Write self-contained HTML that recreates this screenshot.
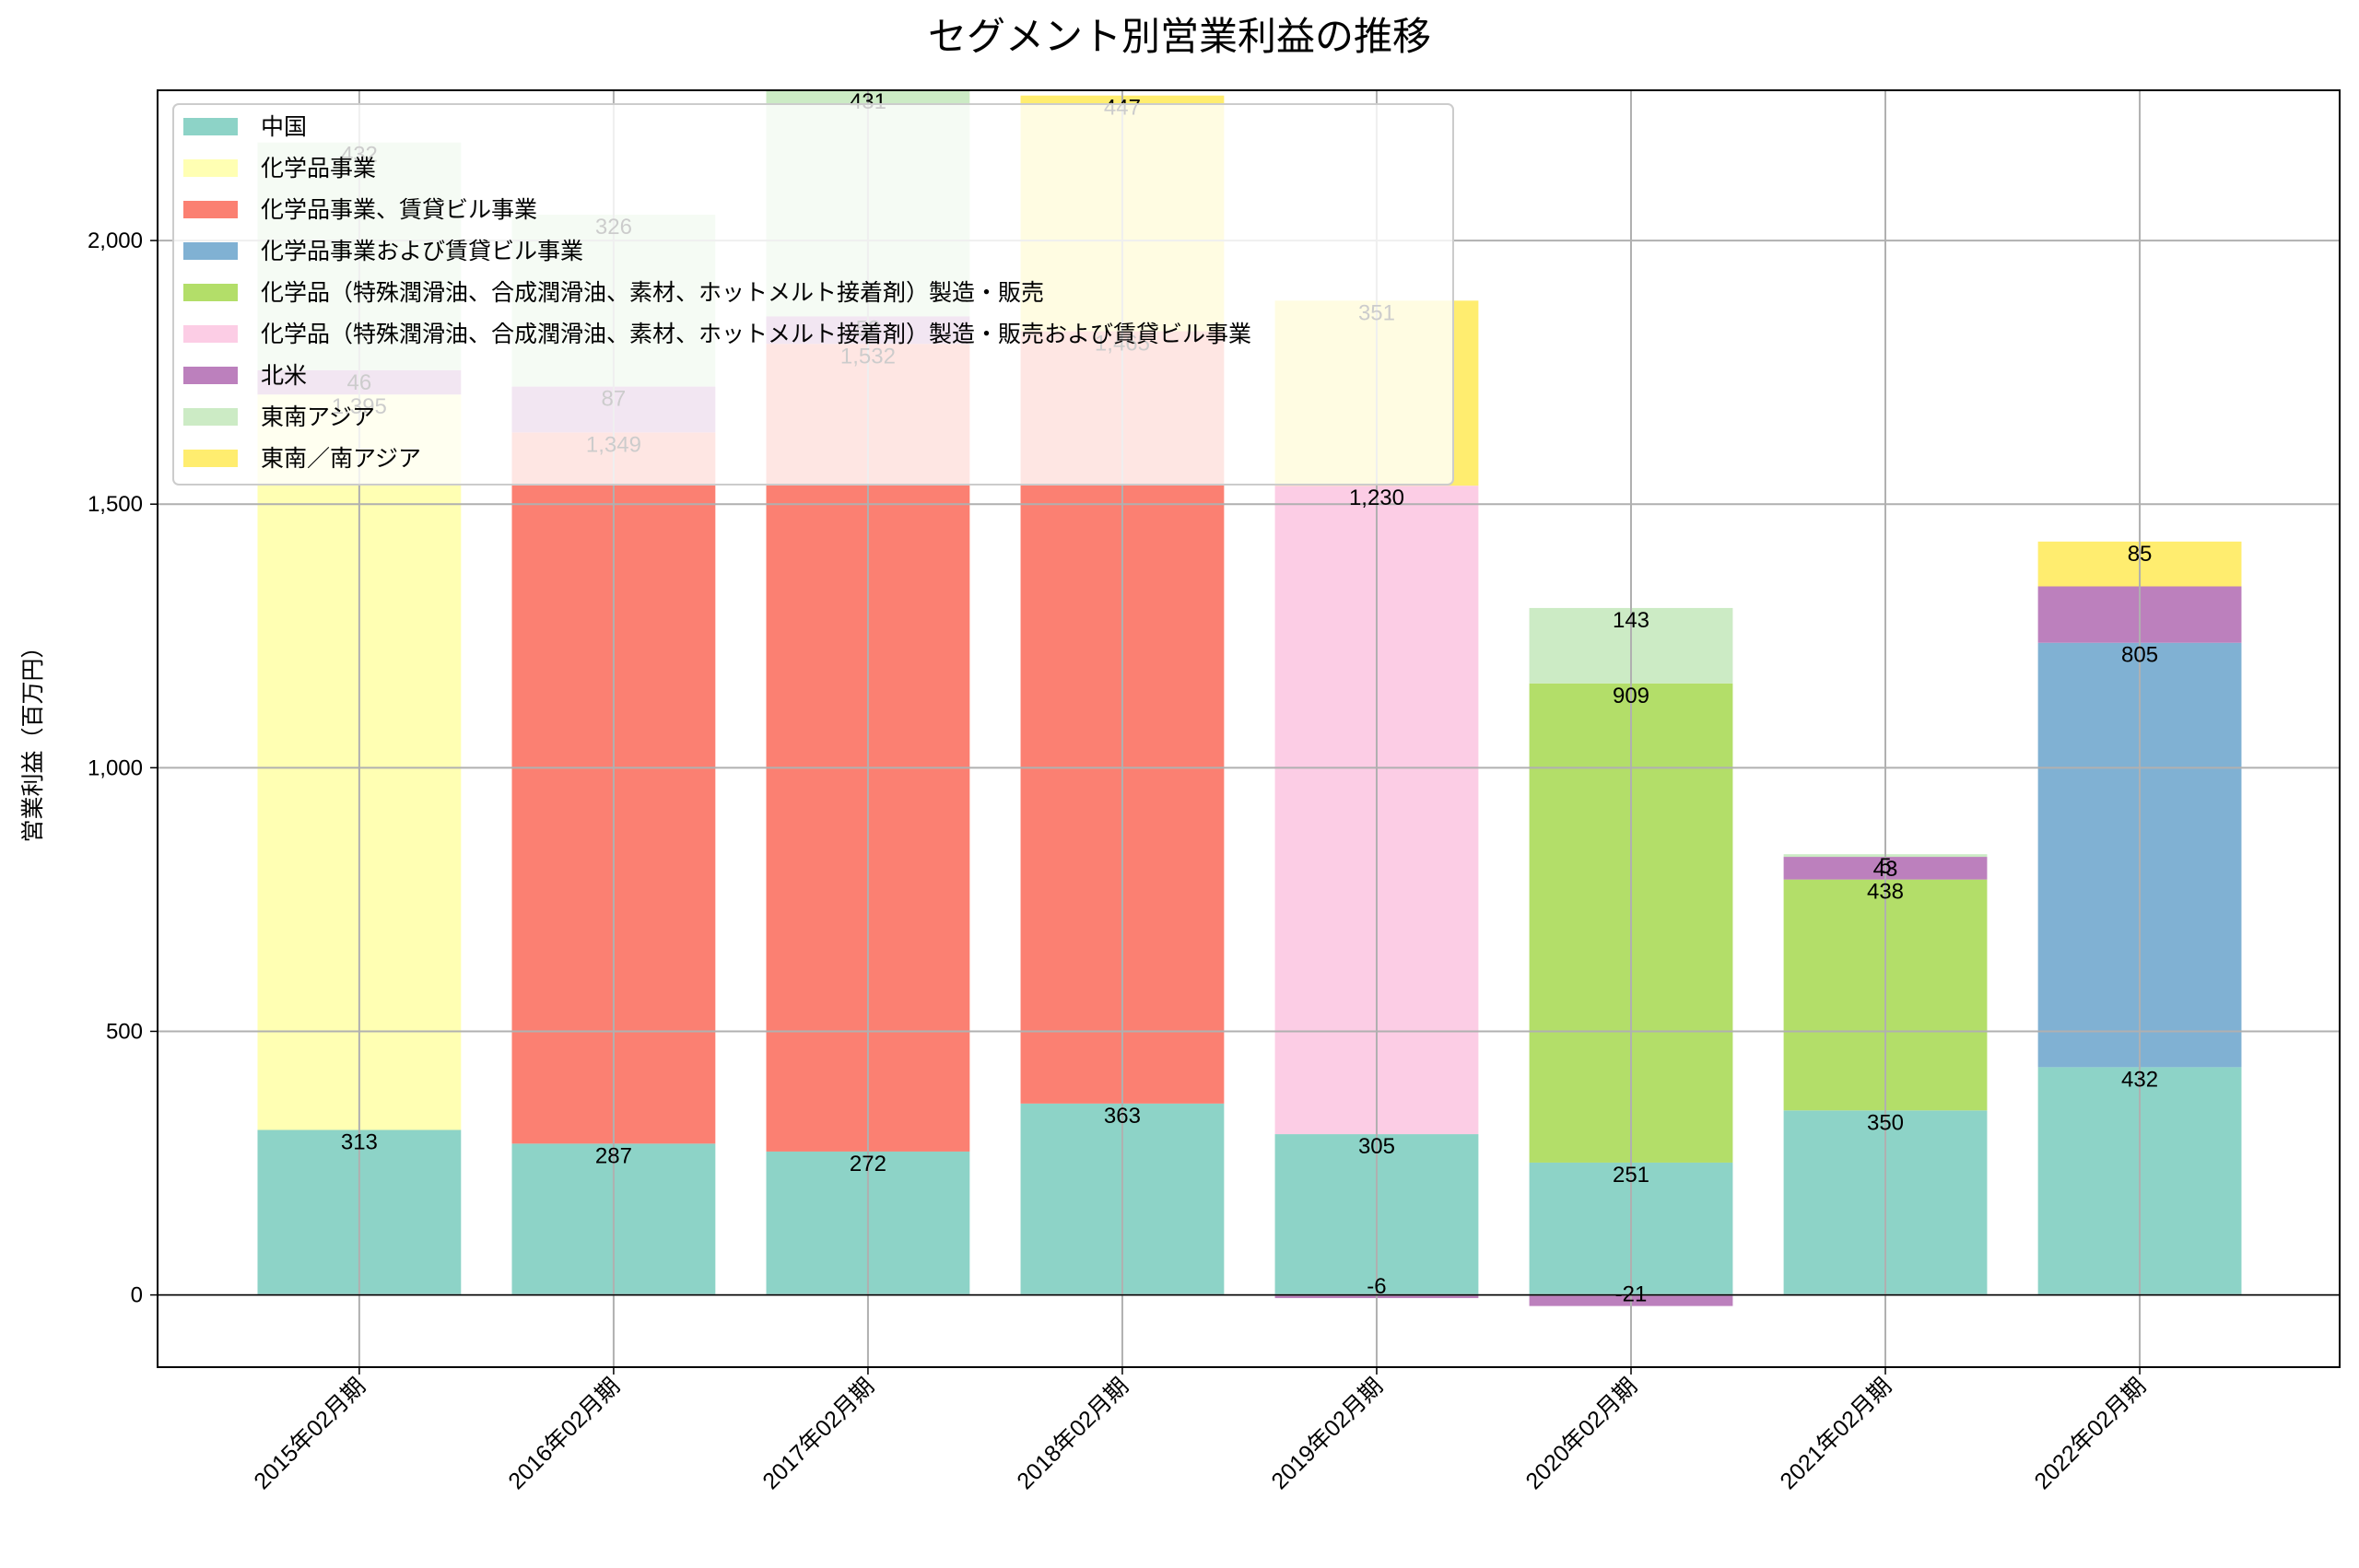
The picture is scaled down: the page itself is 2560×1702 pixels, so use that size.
<!DOCTYPE html>
<html><head><meta charset="utf-8"><style>
body{margin:0;background:#fff}
svg text{font-family:"Liberation Sans","Noto Sans CJK JP",sans-serif}
</style></head><body>
<svg id="chart" width="2560" height="1697" viewBox="0 0 2560 1697" xmlns="http://www.w3.org/2000/svg">
<rect width="2560" height="1697" fill="#fff"/>
<text x="1280" y="54" font-size="42" text-anchor="middle">セグメント別営業利益の推移</text>
<text transform="translate(44,802) rotate(-90)" font-size="25" text-anchor="middle">営業利益（百万円）</text>
<g id="bars"></g><g id="grid"></g><g id="labels"></g><g id="axes"></g><g id="legend"></g>
</svg>
<script>
const categories = ["2015年02月期","2016年02月期","2017年02月期","2018年02月期","2019年02月期","2020年02月期","2021年02月期","2022年02月期"];
const seriesNames = ["中国","化学品事業","化学品事業、賃貸ビル事業","化学品事業および賃貸ビル事業","化学品（特殊潤滑油、合成潤滑油、素材、ホットメルト接着剤）製造・販売","化学品（特殊潤滑油、合成潤滑油、素材、ホットメルト接着剤）製造・販売および賃貸ビル事業","北米","東南アジア","東南／南アジア"];
const s0 = [313,287,272,363,305,251,350,432];
const s1 = [1395,0,0,0,0,0,0,0];
const s2 = [0,1349,1532,1465,0,0,0,0];
const s3 = [0,0,0,0,0,0,0,805];
const s4 = [0,0,0,0,0,909,438,0];
const s5 = [0,0,0,0,1230,0,0,0];
const s6 = [46,87,52,0,-6,-21,43,107];
const s7 = [432,326,431,0,0,143,5,0];
const s8 = [0,0,0,447,351,0,0,85];
const hiddenLabels = ["7-6","8-7"];
const yTicks = [0,500,1000,1500,2000];
const yTickLabels = ["0","500","1,000","1,500","2,000"];
const colors = ["#8dd3c7","#ffffb3","#fb8072","#80b1d3","#b3de69","#fccde5","#bc80bd","#ccebc5","#ffed6f"];
const series = [s0,s1,s2,s3,s4,s5,s6,s7,s8];

const L=171,R=2539,T=98,B=1484,ymin=-137,ymax=2285,xmin=-0.793,xmax=7.786;
const NS="http://www.w3.org/2000/svg";
function y(v){return B-(v-ymin)/(ymax-ymin)*(B-T);}
function x(i){return L+(i-xmin)/(xmax-xmin)*(R-L);}
function mk(tag,attrs,parent){const e=document.createElementNS(NS,tag);for(const k in attrs)e.setAttribute(k,attrs[k]);parent.appendChild(e);return e;}
const gB=document.getElementById('bars'),gG=document.getElementById('grid'),gL=document.getElementById('labels'),gA=document.getElementById('axes'),gLeg=document.getElementById('legend');
const bw=0.8*(x(1)-x(0));
const pos=categories.map(()=>0),neg=categories.map(()=>0);
series.forEach((s,si)=>{
  s.forEach((v,ci)=>{
    if(v===0)return;
    let b0,b1;
    if(v>0){b0=pos[ci];b1=b0+v;pos[ci]=b1;}else{b0=neg[ci];b1=b0+v;neg[ci]=b1;}
    const top=Math.max(y(b0),y(b1)),hi=Math.min(y(b0),y(b1));
    const r=mk('rect',{x:x(ci)-bw/2,y:Math.max(hi,T),width:bw,height:Math.max(0,Math.min(top,B)-Math.max(hi,T)),fill:colors[si]},gB);
    
    
    if(hiddenLabels.indexOf(ci+'-'+si)>=0)return;
    const ly=v>0?y(b1)+13:y(b1)-13;
    const t=mk('text',{x:x(ci),y:ly+8,'font-size':24,'text-anchor':'middle',fill:'#000'},gL);
    t.textContent=v.toLocaleString('en-US');
    
    
  });
});
// grid
yTicks.forEach((v,i)=>{
  const l=mk('line',{x1:L,x2:R,y1:y(v),y2:y(v),stroke:'#b0b0b0','stroke-width':2},gG);
  
  
  mk('line',{x1:L-8,x2:L,y1:y(v),y2:y(v),stroke:'#000','stroke-width':1.5},gA);
  const t=mk('text',{x:L-16,y:y(v)+8,'font-size':24,'text-anchor':'end'},gA);
  t.textContent=yTickLabels[i];
  
  
});
categories.forEach((c,i)=>{
  const l=mk('line',{x1:x(i),x2:x(i),y1:T,y2:B,stroke:'#b0b0b0','stroke-width':2},gG);
  
  
  mk('line',{x1:x(i),x2:x(i),y1:B,y2:B+8,stroke:'#000','stroke-width':1.5},gA);
  const t=mk('text',{transform:`translate(${x(i)+8},${B+22}) rotate(-45)`,'font-size':25,'text-anchor':'end'},gA);
  t.textContent=c;
  
  
});
const z=mk('line',{x1:L,x2:R,y1:y(0),y2:y(0),stroke:'#000','stroke-width':1.5},gA);


const fr=mk('rect',{x:L,y:T,width:R-L,height:B-T,fill:'none',stroke:'#000','stroke-width':2},gA);


// legend
const lb=mk('rect',{x:188,y:113,width:1389,height:413,rx:6,fill:'rgba(255,255,255,0.8)',stroke:'#cccccc','stroke-width':2},gLeg);


seriesNames.forEach((n,i)=>{
  const cy=137+i*45;
  const p=mk('rect',{x:199,y:cy-9,width:59,height:19,fill:colors[i]},gLeg);
  
  
  const t=mk('text',{x:283,y:cy+9,'font-size':25},gLeg);
  t.textContent=n;
  
  
});
</script>
</body></html>
